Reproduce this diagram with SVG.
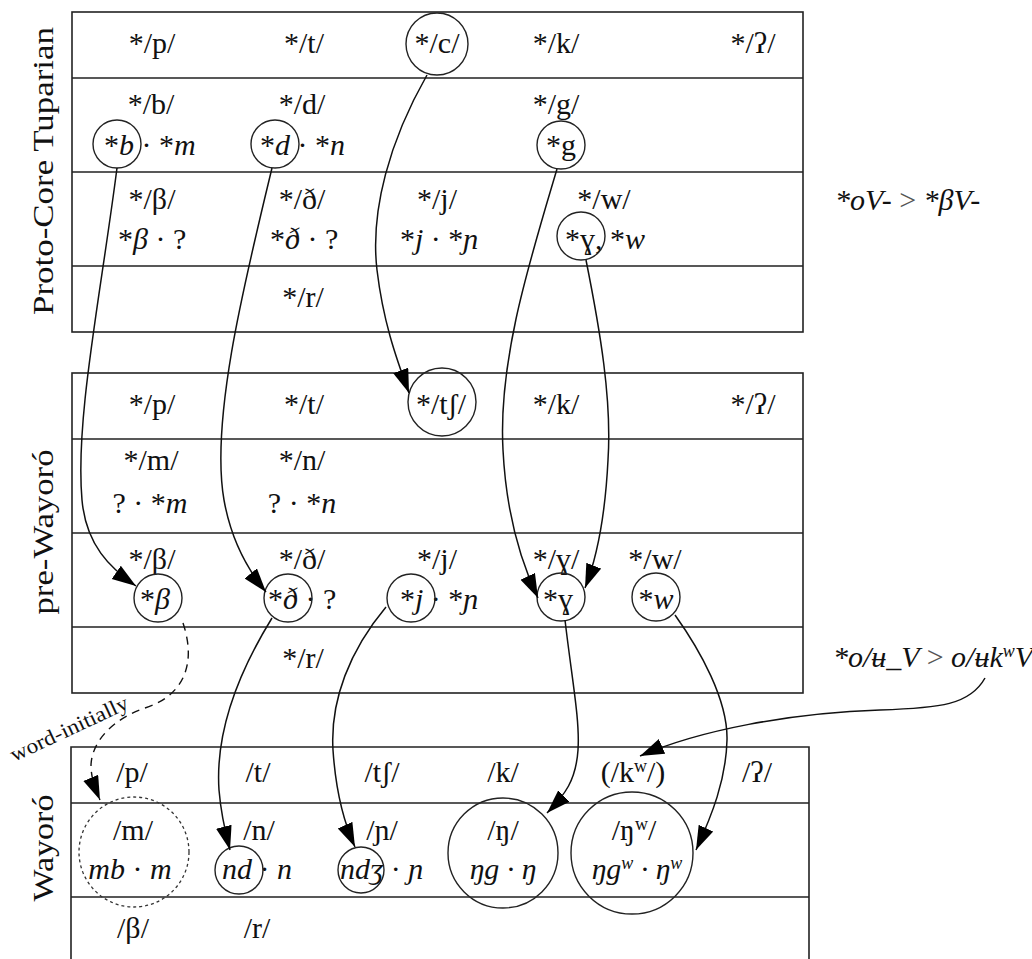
<svg xmlns="http://www.w3.org/2000/svg" width="1032" height="959" viewBox="0 0 1032 959">
<style>
.t text{fill:#111;font-size:30px}
.m{text-anchor:middle}
.i{font-style:italic}
.lab{font-size:31px}
.note{font-size:27px;font-style:italic}
.grid{fill:none;stroke:#222;stroke-width:1.6}
.c{fill:none;stroke:#222;stroke-width:1.4}
.dc{fill:none;stroke:#333;stroke-width:1.3;stroke-dasharray:3,3}
.a{fill:none;stroke:#111;stroke-width:1.5;marker-end:url(#ah)}
.ad{fill:none;stroke:#111;stroke-width:1.4;stroke-dasharray:8,6;marker-end:url(#ah)}
.sup{font-size:18px}
</style>
<defs>
<marker id="ah" markerUnits="userSpaceOnUse" markerWidth="26" markerHeight="18" refX="24" refY="8" orient="auto">
<path d="M0,0 L24,8 L0,16 z" fill="#000"/>
</marker>
</defs>

<g id="labels" class="t" font-family="Liberation Serif">
<text class="lab m" transform="translate(53,171) rotate(-90)" textLength="288" lengthAdjust="spacingAndGlyphs">Proto-Core Tuparian</text>
<text class="lab m" transform="translate(53,532) rotate(-90)" textLength="165" lengthAdjust="spacingAndGlyphs">pre-Wayoró</text>
<text class="lab m" transform="translate(53,848) rotate(-90)" textLength="107" lengthAdjust="spacingAndGlyphs">Wayoró</text>
</g>

<g id="box-proto" class="t" font-family="Liberation Serif">
<rect class="grid" x="72" y="12" width="731" height="320"/>
<path class="grid" d="M72,78H803M72,172H803M72,266H803"/>
<text class="m" x="152" y="53">*/p/</text>
<text class="m" x="304" y="53">*/t/</text>
<text class="m" x="437" y="53">*/c/</text>
<circle class="c" cx="437" cy="44" r="31"/>
<text class="m" x="556" y="53">*/k/</text>
<text class="m" x="753" y="53">*/ʔ/</text>
<text class="m" x="151" y="114">*/b/</text>
<text class="m" x="302" y="114">*/d/</text>
<text class="m" x="556" y="114">*/g/</text>
<text x="104" y="155">*<tspan class="i">b</tspan> · *<tspan class="i">m</tspan></text>
<circle class="c" cx="117" cy="144" r="24"/>
<text x="260" y="155">*<tspan class="i">d</tspan> · *<tspan class="i">n</tspan></text>
<circle class="c" cx="275" cy="144" r="24"/>
<text class="m" x="561" y="155">*g</text>
<circle class="c" cx="561" cy="145" r="24"/>
<text class="m" x="152" y="209">*/β/</text>
<text class="m" x="302" y="209">*/ð/</text>
<text class="m" x="437" y="209">*/j/</text>
<text class="m" x="604" y="209">*/w/</text>
<text x="118" y="249">*<tspan class="i">β</tspan> · ?</text>
<text x="270" y="249">*<tspan class="i">ð</tspan> · ?</text>
<text x="400" y="249">*<tspan class="i">j</tspan> · *<tspan class="i">ɲ</tspan></text>
<text x="565" y="249">*ɣ, *<tspan class="i">w</tspan></text>
<circle class="c" cx="581" cy="236" r="24"/>
<text class="m" x="303" y="307">*/r/</text>
</g>

<g id="box-pre" class="t" font-family="Liberation Serif">
<rect class="grid" x="72" y="373" width="731" height="320"/>
<path class="grid" d="M72,439H803M72,533H803M72,627H803"/>
<text class="m" x="152" y="414">*/p/</text>
<text class="m" x="304" y="414">*/t/</text>
<text class="m" x="441" y="414">*/tʃ/</text>
<circle class="c" cx="442" cy="402" r="34"/>
<text class="m" x="556" y="414">*/k/</text>
<text class="m" x="753" y="414">*/ʔ/</text>
<text class="m" x="151" y="470">*/m/</text>
<text class="m" x="302" y="470">*/n/</text>
<text class="m" x="150" y="513">? · *<tspan class="i">m</tspan></text>
<text class="m" x="302" y="513">? · *<tspan class="i">n</tspan></text>
<text class="m" x="152" y="569">*/β/</text>
<text class="m" x="302" y="569">*/ð/</text>
<text class="m" x="437" y="569">*/j/</text>
<text class="m" x="556" y="569">*/ɣ/</text>
<text class="m" x="655" y="569">*/w/</text>
<text class="m" x="155" y="609">*<tspan class="i">β</tspan></text>
<circle class="c" cx="158" cy="598" r="24"/>
<text x="268" y="609">*<tspan class="i">ð</tspan> · ?</text>
<circle class="c" cx="288" cy="598" r="24"/>
<text x="400" y="609">*<tspan class="i">j</tspan> · *<tspan class="i">ɲ</tspan></text>
<circle class="c" cx="411" cy="598" r="24"/>
<text class="m" x="558" y="609">*ɣ</text>
<circle class="c" cx="561" cy="597" r="24"/>
<text class="m" x="656" y="609">*<tspan class="i">w</tspan></text>
<circle class="c" cx="656" cy="597" r="24"/>
<text class="m" x="303" y="668">*/r/</text>
</g>

<g id="box-wayoro" class="t" font-family="Liberation Serif">
<path class="grid" d="M71,959V747H809V959M71,803H809M71,897H809"/>
<text class="m" x="132" y="782">/p/</text>
<text class="m" x="258" y="782">/t/</text>
<text class="m" x="382" y="782">/tʃ/</text>
<text class="m" x="503" y="782">/k/</text>
<text class="m" x="633" y="782">(/k<tspan class="sup" dy="-10">w</tspan><tspan dy="10">/)</tspan></text>
<text class="m" x="757" y="782">/ʔ/</text>
<text class="m" x="133" y="840">/m/</text>
<text class="m" x="130" y="879"><tspan class="i">mb</tspan> · <tspan class="i">m</tspan></text>
<circle class="dc" cx="134" cy="852" r="55"/>
<text class="m" x="259" y="840">/n/</text>
<text x="222" y="879"><tspan class="i">nd</tspan> · <tspan class="i">n</tspan></text>
<circle class="c" cx="239" cy="870" r="24"/>
<text class="m" x="382" y="840">/ɲ/</text>
<text x="340" y="879"><tspan class="i">ndʒ</tspan> · <tspan class="i">ɲ</tspan></text>
<circle class="c" cx="361" cy="870" r="23"/>
<text class="m" x="503" y="840">/ŋ/</text>
<text class="m i" x="503" y="879">ŋg · ŋ</text>
<circle class="c" cx="503" cy="853" r="55"/>
<text class="m" x="634" y="840">/ŋ<tspan class="sup" dy="-10">w</tspan><tspan dy="10">/</tspan></text>
<text class="m i" x="637" y="879">ŋg<tspan class="sup" dy="-10">w</tspan><tspan dy="10"> · ŋ</tspan><tspan class="sup" dy="-10">w</tspan></text>
<circle class="c" cx="632" cy="853" r="61"/>
<text class="m" x="133" y="938">/β/</text>
<text class="m" x="257" y="938">/r/</text>
</g>

<g id="notes" class="t" font-family="Liberation Serif">
<text class="note" x="835" y="210">*oV- <tspan font-style="normal" fill="#555">&gt;</tspan> *βV-</text>
<text class="note" x="833" y="667">*o/ʉ_V <tspan font-style="normal" fill="#555">&gt;</tspan> o/ʉk<tspan class="sup" dy="-10">w</tspan><tspan dy="10">V</tspan></text>
<text font-size="21" transform="translate(14,762) rotate(-25)" textLength="128" lengthAdjust="spacingAndGlyphs" style="font-size:21px">word-initially</text>
</g>

<g id="connectors">
<path class="a" d="M117,168 C100,300 75,420 82,500 C86,545 110,568 136,586"/>
<path class="a" d="M272,168 C245,280 210,420 224,500 C232,545 252,575 266,592"/>
<path class="a" d="M427,75 C390,140 370,210 377,270 C383,320 395,355 409,393"/>
<path class="a" d="M557,169 C530,260 498,360 503,450 C506,510 520,560 538,598"/>
<path class="a" d="M586,260 C600,330 612,400 608,460 C605,520 596,560 585,588"/>
<path class="ad" d="M183,623 C198,668 180,697 145,708 C115,718 92,740 91,765 C91,778 95,788 100,800"/>
<path class="a" d="M272,618 C240,670 215,730 219,790 C221,815 226,835 230,850"/>
<path class="a" d="M386,607 C350,650 330,700 333,750 C336,795 345,825 355,847"/>
<path class="a" d="M565,620 C572,680 580,720 578,750 C576,780 565,795 547,813"/>
<path class="a" d="M675,615 C700,650 728,700 727,740 C726,780 712,815 696,850"/>
<path class="a" d="M985,678 C970,705 940,708 880,710 C790,713 700,730 640,756"/>
</g>
</svg>
